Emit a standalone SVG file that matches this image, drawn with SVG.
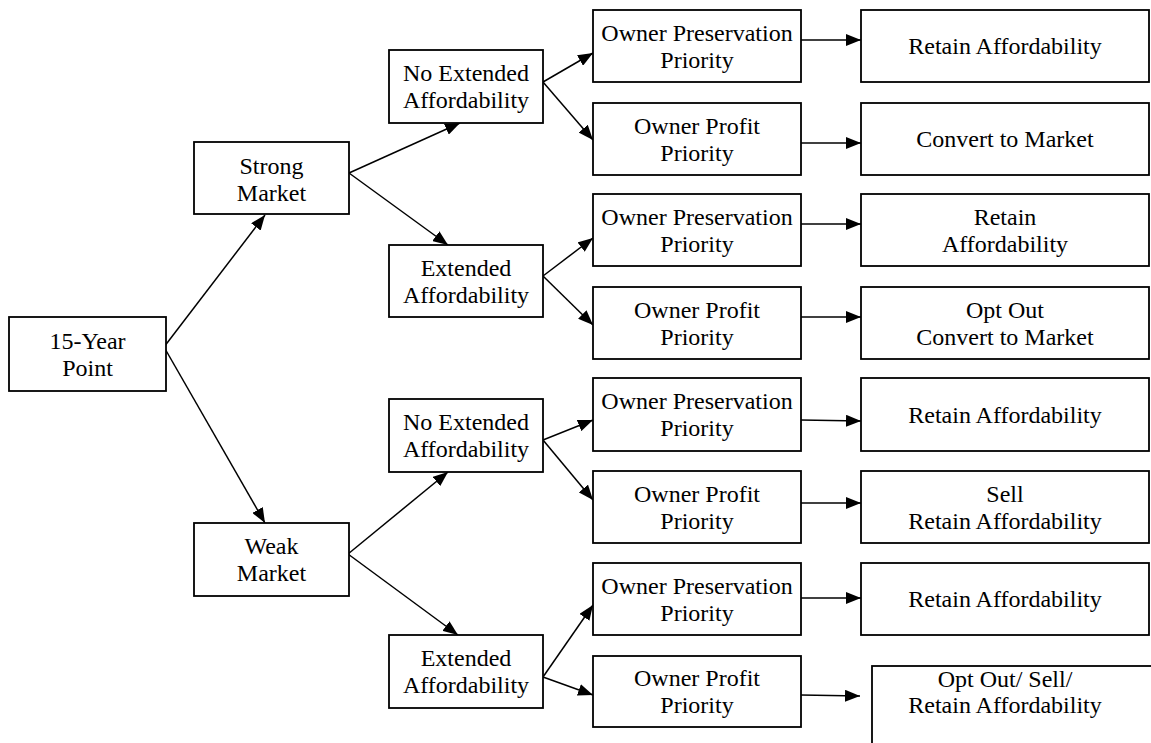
<svg xmlns="http://www.w3.org/2000/svg" width="1151" height="743" viewBox="0 0 1151 743">
<style>
  .box { fill: #ffffff; stroke: #000000; stroke-width: 1.8; }
  .t { font-family: 'Liberation Serif', 'Times New Roman', serif; font-size: 24px; fill: #000000; text-anchor: middle; }
  .c { stroke: #000000; stroke-width: 1.5; fill: none; marker-end: url(#ah); }
</style>
<defs>
  <marker id="ah" markerUnits="userSpaceOnUse" markerWidth="16" markerHeight="12" refX="15" refY="6" orient="auto">
    <path d="M0,0 L15,6 L0,12 Z" fill="#000000"/>
  </marker>
</defs>
<rect width="1151" height="743" fill="#ffffff"/>

<g id="connectors">
  <line class="c" x1="164" y1="347" x2="265" y2="215"/>
  <line class="c" x1="164" y1="347" x2="265" y2="523"/>
  <line class="c" x1="349" y1="173" x2="460" y2="123"/>
  <line class="c" x1="349" y1="173" x2="448" y2="245"/>
  <line class="c" x1="348" y1="554" x2="448" y2="472"/>
  <line class="c" x1="348" y1="554" x2="458" y2="635"/>
  <line class="c" x1="543" y1="82" x2="593" y2="53"/>
  <line class="c" x1="543" y1="82" x2="593" y2="140"/>
  <line class="c" x1="543" y1="276" x2="593" y2="238"/>
  <line class="c" x1="543" y1="276" x2="593" y2="325"/>
  <line class="c" x1="543" y1="440" x2="593" y2="420"/>
  <line class="c" x1="543" y1="440" x2="593" y2="500"/>
  <line class="c" x1="543" y1="677" x2="593" y2="605"/>
  <line class="c" x1="543" y1="677" x2="593" y2="695"/>
  <line class="c" x1="801" y1="40" x2="861" y2="40"/>
  <line class="c" x1="801" y1="143" x2="861" y2="143"/>
  <line class="c" x1="801" y1="224" x2="861" y2="224"/>
  <line class="c" x1="801" y1="317" x2="861" y2="317"/>
  <line class="c" x1="801" y1="420" x2="861" y2="421"/>
  <line class="c" x1="801" y1="503" x2="861" y2="503"/>
  <line class="c" x1="801" y1="598" x2="861" y2="598"/>
  <line class="c" x1="801" y1="695" x2="860" y2="696"/>
</g>

<g id="n-15year">
  <rect class="box" x="9" y="317" width="157" height="74"/>
  <text class="t" x="87.5" y="349">15-Year</text>
  <text class="t" x="87.5" y="376">Point</text>
</g>

<g id="n-strong">
  <rect class="box" x="194" y="142" width="155" height="72"/>
  <text class="t" x="271.5" y="174">Strong</text>
  <text class="t" x="271.5" y="201">Market</text>
</g>
<g id="n-weak">
  <rect class="box" x="194" y="523" width="155" height="73"/>
  <text class="t" x="271.5" y="554">Weak</text>
  <text class="t" x="271.5" y="581">Market</text>
</g>

<g id="n-s-noext">
  <rect class="box" x="389" y="50" width="154" height="73"/>
  <text class="t" x="466" y="81">No Extended</text>
  <text class="t" x="466" y="108">Affordability</text>
</g>
<g id="n-s-ext">
  <rect class="box" x="389" y="245" width="154" height="72"/>
  <text class="t" x="466" y="276">Extended</text>
  <text class="t" x="466" y="303">Affordability</text>
</g>
<g id="n-w-noext">
  <rect class="box" x="389" y="399" width="154" height="73"/>
  <text class="t" x="466" y="430">No Extended</text>
  <text class="t" x="466" y="457">Affordability</text>
</g>
<g id="n-w-ext">
  <rect class="box" x="389" y="635" width="154" height="73"/>
  <text class="t" x="466" y="666">Extended</text>
  <text class="t" x="466" y="693">Affordability</text>
</g>

<g id="o1">
  <rect class="box" x="593" y="10" width="208" height="72"/>
  <text class="t" x="697" y="41">Owner Preservation</text>
  <text class="t" x="697" y="68">Priority</text>
</g>
<g id="o2">
  <rect class="box" x="593" y="103" width="208" height="72"/>
  <text class="t" x="697" y="134">Owner Profit</text>
  <text class="t" x="697" y="161">Priority</text>
</g>
<g id="o3">
  <rect class="box" x="593" y="194" width="208" height="72"/>
  <text class="t" x="697" y="225">Owner Preservation</text>
  <text class="t" x="697" y="252">Priority</text>
</g>
<g id="o4">
  <rect class="box" x="593" y="287" width="208" height="72"/>
  <text class="t" x="697" y="318">Owner Profit</text>
  <text class="t" x="697" y="345">Priority</text>
</g>
<g id="o5">
  <rect class="box" x="593" y="378" width="208" height="73"/>
  <text class="t" x="697" y="409">Owner Preservation</text>
  <text class="t" x="697" y="436">Priority</text>
</g>
<g id="o6">
  <rect class="box" x="593" y="471" width="208" height="72"/>
  <text class="t" x="697" y="502">Owner Profit</text>
  <text class="t" x="697" y="529">Priority</text>
</g>
<g id="o7">
  <rect class="box" x="593" y="563" width="208" height="72"/>
  <text class="t" x="697" y="594">Owner Preservation</text>
  <text class="t" x="697" y="621">Priority</text>
</g>
<g id="o8">
  <rect class="box" x="593" y="656" width="208" height="71"/>
  <text class="t" x="697" y="686">Owner Profit</text>
  <text class="t" x="697" y="713">Priority</text>
</g>

<g id="r1">
  <rect class="box" x="861" y="10" width="288" height="72"/>
  <text class="t" x="1005" y="54">Retain Affordability</text>
</g>
<g id="r2">
  <rect class="box" x="861" y="103" width="288" height="72"/>
  <text class="t" x="1005" y="147">Convert to Market</text>
</g>
<g id="r3">
  <rect class="box" x="861" y="194" width="288" height="72"/>
  <text class="t" x="1005" y="225">Retain</text>
  <text class="t" x="1005" y="252">Affordability</text>
</g>
<g id="r4">
  <rect class="box" x="861" y="287" width="288" height="72"/>
  <text class="t" x="1005" y="318">Opt Out</text>
  <text class="t" x="1005" y="345">Convert to Market</text>
</g>
<g id="r5">
  <rect class="box" x="861" y="378" width="288" height="73"/>
  <text class="t" x="1005" y="423">Retain Affordability</text>
</g>
<g id="r6">
  <rect class="box" x="861" y="471" width="288" height="72"/>
  <text class="t" x="1005" y="502">Sell</text>
  <text class="t" x="1005" y="529">Retain Affordability</text>
</g>
<g id="r7">
  <rect class="box" x="861" y="563" width="288" height="72"/>
  <text class="t" x="1005" y="607">Retain Affordability</text>
</g>
<g id="r8">
  <rect class="box" x="872" y="666" width="300" height="100"/>
  <text class="t" x="1005" y="687">Opt Out/ Sell/</text>
  <text class="t" x="1005" y="713">Retain Affordability</text>
</g>
</svg>
